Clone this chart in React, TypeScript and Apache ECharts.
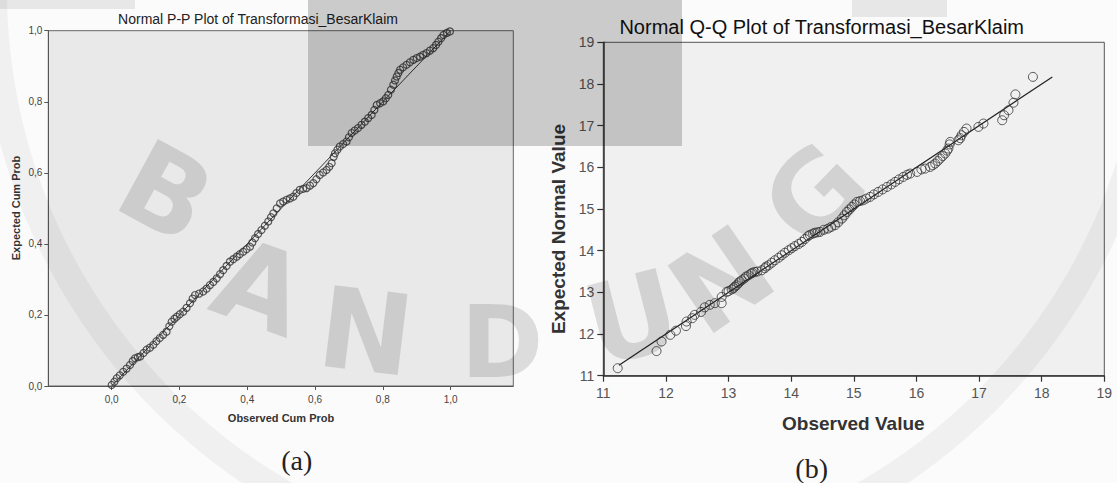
import React, { useEffect, useRef } from "react";
import * as echarts from "echarts";

// ---------- Normal P-P plot data ----------
const ppObserved = [
  0.000, 0.008, 0.015, 0.024, 0.034, 0.044, 0.054, 0.062, 0.069, 0.077,
  0.084, 0.094, 0.103, 0.113, 0.123, 0.132, 0.142, 0.152, 0.162, 0.170,
  0.177, 0.185, 0.192, 0.201, 0.211, 0.221, 0.231, 0.239, 0.246, 0.258,
  0.270, 0.280, 0.290, 0.300, 0.310, 0.320, 0.329, 0.339, 0.349, 0.359,
  0.369, 0.378, 0.388, 0.398, 0.408, 0.415, 0.423, 0.432, 0.442, 0.452,
  0.462, 0.470, 0.477, 0.487, 0.497, 0.506, 0.516, 0.526, 0.536, 0.545,
  0.555, 0.565, 0.575, 0.585, 0.595, 0.604, 0.614, 0.624, 0.634, 0.642,
  0.649, 0.655, 0.659, 0.666, 0.673, 0.683, 0.693, 0.700, 0.708, 0.717,
  0.727, 0.737, 0.747, 0.757, 0.767, 0.775, 0.782, 0.792, 0.801, 0.809,
  0.816, 0.824, 0.831, 0.836, 0.841, 0.846, 0.851, 0.860, 0.870, 0.880,
  0.890, 0.900, 0.910, 0.919, 0.929, 0.939, 0.949, 0.957, 0.964, 0.972,
  0.979, 0.989, 0.998,
];
const ppExpected = [
  0.003, 0.012, 0.022, 0.030, 0.040, 0.049, 0.059, 0.070, 0.078, 0.081,
  0.083, 0.093, 0.102, 0.108, 0.116, 0.126, 0.135, 0.144, 0.153, 0.168,
  0.181, 0.189, 0.195, 0.202, 0.209, 0.220, 0.233, 0.246, 0.256, 0.260,
  0.266, 0.274, 0.284, 0.293, 0.303, 0.315, 0.326, 0.338, 0.350, 0.357,
  0.364, 0.371, 0.378, 0.385, 0.392, 0.404, 0.416, 0.428, 0.439, 0.451,
  0.463, 0.475, 0.486, 0.500, 0.514, 0.519, 0.524, 0.528, 0.533, 0.543,
  0.552, 0.555, 0.557, 0.564, 0.571, 0.582, 0.594, 0.601, 0.608, 0.617,
  0.627, 0.645, 0.655, 0.665, 0.674, 0.681, 0.688, 0.700, 0.712, 0.719,
  0.726, 0.735, 0.744, 0.754, 0.763, 0.777, 0.791, 0.796, 0.801, 0.810,
  0.819, 0.834, 0.848, 0.860, 0.871, 0.881, 0.890, 0.897, 0.904, 0.911,
  0.918, 0.923, 0.927, 0.932, 0.937, 0.944, 0.951, 0.960, 0.969, 0.979,
  0.988, 0.994, 0.998,
];
const ppRefX = [0, 1];
const ppRefY = [0, 1];
const ppTicks = [0, 0.2, 0.4, 0.6, 0.8, 1.0];

// ---------- Normal Q-Q plot data ----------
const qqObserved = [
  11.23, 11.85, 11.93, 12.07, 12.16, 12.32, 12.33, 12.42, 12.46, 12.56,
  12.62, 12.70, 12.78, 12.89, 12.89, 12.97, 13.00, 13.05, 13.08, 13.10,
  13.13, 13.16, 13.18, 13.21, 13.25, 13.28, 13.32, 13.36, 13.38, 13.42,
  13.46, 13.53, 13.58, 13.60, 13.64, 13.69, 13.74, 13.80, 13.85, 13.90,
  13.96, 14.01, 14.06, 14.12, 14.17, 14.22, 14.27, 14.30, 14.35, 14.38,
  14.42, 14.46, 14.52, 14.59, 14.64, 14.70, 14.75, 14.81, 14.85, 14.89,
  14.93, 14.97, 15.01, 15.05, 15.10, 15.15, 15.20, 15.26, 15.32, 15.39,
  15.46, 15.53, 15.60, 15.66, 15.72, 15.79, 15.85, 15.90, 16.01, 16.08,
  16.14, 16.22, 16.26, 16.30, 16.34, 16.38, 16.42, 16.46, 16.49, 16.51,
  16.53, 16.54, 16.67, 16.70, 16.72, 16.76, 16.80, 16.99, 17.07, 17.37,
  17.40, 17.47, 17.55, 17.58, 17.86,
];
const qqExpected = [
  11.18, 11.59, 11.82, 11.98, 12.08, 12.19, 12.30, 12.38, 12.46, 12.53,
  12.64, 12.70, 12.74, 12.74, 12.89, 13.01, 13.03, 13.07, 13.10, 13.14,
  13.17, 13.22, 13.26, 13.29, 13.33, 13.38, 13.41, 13.45, 13.47, 13.49,
  13.50, 13.53, 13.58, 13.62, 13.65, 13.71, 13.77, 13.83, 13.89, 13.95,
  14.01, 14.06, 14.11, 14.16, 14.21, 14.28, 14.35, 14.38, 14.41, 14.43,
  14.44, 14.45, 14.50, 14.53, 14.57, 14.61, 14.68, 14.77, 14.85, 14.93,
  14.99, 15.05, 15.11, 15.17, 15.19, 15.21, 15.25, 15.29, 15.35, 15.41,
  15.47, 15.53, 15.59, 15.65, 15.71, 15.77, 15.82, 15.85, 15.89, 15.95,
  15.97, 16.01, 16.05, 16.09, 16.15, 16.21, 16.27, 16.33, 16.40, 16.45,
  16.55, 16.61, 16.65, 16.70, 16.77, 16.85, 16.93, 16.97, 17.05, 17.13,
  17.25, 17.37, 17.55, 17.75, 18.17,
];
const qqRefX = [11.25, 18.17];
const qqRefY = [11.25, 18.17];
const qqTicks = [11, 12, 13, 14, 15, 16, 17, 18, 19];

const W = 1117;
const H = 483;
const PP = { left: 48.3, top: 30.7, width: 465, height: 355.3 };
const QQ = { left: 603.3, top: 42.3, width: 501, height: 333.4 };

const pairs = (xs: number[], ys: number[]) => xs.map((x, i) => [x, ys[i]]);
const comma = (v: number) => v.toFixed(1).replace(".", ",");

export default function App() {
  const ref = useRef<HTMLDivElement>(null);

  useEffect(() => {
    if (!ref.current) return;
    const chart = echarts.init(ref.current, undefined, { renderer: "svg" });
    const sans = "Liberation Sans, Arial, sans-serif";
    const serif = "Liberation Serif, Times New Roman, serif";
    const wm = "rgba(0,0,0,0.12)";
    const letter = (t: string, x: number, y: number, rot: number, size = 112) => ({
      type: "text",
      x,
      y,
      rotation: rot,
      silent: true,
      z: 20,
      style: {
        text: t,
        font: `bold ${size}px DejaVu Sans, sans-serif`,
        fill: wm,
        textAlign: "center",
        textVerticalAlign: "middle",
      },
    });
    const label = (t: string, x: number, y: number, font: string, fill: string, rot = 0) => ({
      type: "text",
      x,
      y,
      rotation: rot,
      z: 5,
      style: { text: t, font, fill, textAlign: "center", textVerticalAlign: "middle" },
    });

    chart.setOption({
      animation: false,
      backgroundColor: "#fbfbfb",
      grid: [
        { ...PP, show: true, backgroundColor: "#e9e9e9", borderColor: "#666", borderWidth: 1 },
        { ...QQ, show: true, backgroundColor: "#f0f0f0", borderColor: "#555", borderWidth: 1 },
      ],
      xAxis: [
        {
          type: "value",
          gridIndex: 0,
          min: -0.187,
          max: 1.185,
          splitLine: { show: false },
          axisLine: { show: true, onZero: false, lineStyle: { color: "#555", width: 1 } },
          axisTick: { show: true, customValues: ppTicks, length: 4, lineStyle: { color: "#555" } },
          axisLabel: {
            customValues: ppTicks,
            formatter: (v: number) => comma(v),
            fontSize: 10,
            fontFamily: sans,
            color: "#444",
            margin: 8,
          },
        },
        {
          type: "value",
          gridIndex: 1,
          min: 11,
          max: 19,
          interval: 1,
          splitLine: { show: false },
          axisLine: { show: true, onZero: false, lineStyle: { color: "#333", width: 1.5 } },
          axisTick: { show: true, length: 6, lineStyle: { color: "#333", width: 1.2 } },
          axisLabel: { fontSize: 14, fontFamily: sans, color: "#555", margin: 10 },
        },
      ],
      yAxis: [
        {
          type: "value",
          gridIndex: 0,
          min: 0,
          max: 1,
          interval: 0.2,
          splitLine: { show: false },
          axisLine: { show: true, onZero: false, lineStyle: { color: "#555", width: 1 } },
          axisTick: { show: true, length: 4, lineStyle: { color: "#555" } },
          axisLabel: {
            formatter: (v: number) => comma(v),
            fontSize: 10,
            fontFamily: sans,
            color: "#444",
            margin: 6,
          },
        },
        {
          type: "value",
          gridIndex: 1,
          min: 11,
          max: 19,
          interval: 1,
          splitLine: { show: false },
          axisLine: { show: true, onZero: false, lineStyle: { color: "#333", width: 1.5 } },
          axisTick: { show: true, length: 6, lineStyle: { color: "#333", width: 1.2 } },
          axisLabel: { fontSize: 14, fontFamily: sans, color: "#555", margin: 9 },
        },
      ],
      series: [
        {
          type: "line",
          xAxisIndex: 0,
          yAxisIndex: 0,
          data: pairs(ppRefX, ppRefY),
          symbol: "none",
          lineStyle: { color: "#333", width: 1 },
          z: 2,
        },
        {
          type: "scatter",
          xAxisIndex: 0,
          yAxisIndex: 0,
          data: pairs(ppObserved, ppExpected),
          symbol: "circle",
          symbolSize: 7,
          itemStyle: { color: "rgba(0,0,0,0)", borderColor: "#333", borderWidth: 1.2 },
          z: 3,
        },
        {
          type: "line",
          xAxisIndex: 1,
          yAxisIndex: 1,
          data: pairs(qqRefX, qqRefY),
          symbol: "none",
          lineStyle: { color: "#222", width: 1.2 },
          z: 2,
        },
        {
          type: "scatter",
          xAxisIndex: 1,
          yAxisIndex: 1,
          data: pairs(qqObserved, qqExpected),
          symbol: "circle",
          symbolSize: 9,
          itemStyle: { color: "rgba(0,0,0,0)", borderColor: "#333", borderWidth: 1 },
          z: 3,
        },
      ],
      graphic: [
        // watermark
        {
          type: "ring",
          silent: true,
          z: 19,
          shape: { cx: 575, cy: -10, r: 595, r0: 568 },
          style: { fill: "rgba(0,0,0,0.045)" },
        },
        {
          type: "rect",
          silent: true,
          z: 20,
          shape: { x: 308, y: 0, width: 374, height: 146 },
          style: { fill: "rgba(0,0,0,0.19)" },
        },
        {
          type: "rect",
          silent: true,
          z: 20,
          shape: { x: 0, y: 0, width: 135, height: 9 },
          style: { fill: "rgba(0,0,0,0.08)" },
        },
        {
          type: "rect",
          silent: true,
          z: 20,
          shape: { x: 852, y: 0, width: 95, height: 17 },
          style: { fill: "rgba(0,0,0,0.08)" },
        },
        letter("B", 166, 192, -0.5),
        letter("A", 260, 287, -0.35),
        letter("N", 366, 332, -0.12),
        letter("D", 502, 342, 0, 100),
        letter("U", 632, 318, 0.25),
        letter("N", 722, 280, 0.6),
        letter("G", 815, 195, 0.8),
        // texts
        label("Normal P-P Plot of Transformasi_BesarKlaim", 258, 19.3, `14px ${sans}`, "#222"),
        label("Expected Cum Prob", 16, 208, `bold 11px ${sans}`, "#333", Math.PI / 2),
        label("Observed Cum Prob", 281, 418.3, `bold 11px ${sans}`, "#333"),
        label("(a)", 296.7, 460, `28px ${serif}`, "#222"),
        label("Normal Q-Q Plot of Transformasi_BesarKlaim", 821.7, 26.7, `20px ${sans}`, "#111"),
        label("Expected Normal Value", 558.4, 229, `bold 19px ${sans}`, "#333", Math.PI / 2),
        label("Observed Value", 853.3, 423.3, `bold 19px ${sans}`, "#333"),
        label("(b)", 811.7, 468.3, `28px ${serif}`, "#222"),
      ],
    });

    return () => chart.dispose();
  }, []);

  return (
    <div
      ref={ref}
      style={{ position: "fixed", left: 0, top: 0, width: W, height: H }}
    />
  );
}
